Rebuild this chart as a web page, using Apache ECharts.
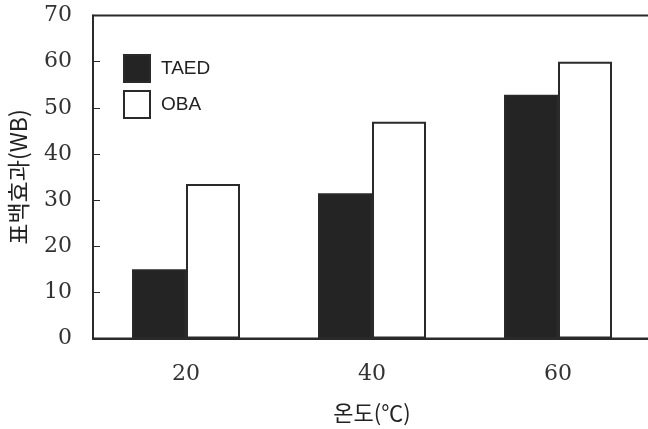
<!DOCTYPE html>
<html>
<head>
<meta charset="utf-8">
<script src="https://cdn.jsdelivr.net/npm/echarts@6/dist/echarts.min.js"></script>
<style>html,body{margin:0;padding:0;background:#fff;}#c{width:648px;height:429px;}</style>
</head>
<body>
<div id="c"></div>
<script>
var categories = ['20', '40', '60'];
var taed = [15, 31.5, 52.8];
var oba = [33.5, 47, 60];
var seriesNames = ['TAED', 'OBA'];
var xName = '온도(℃)';
var yName = '표백효과(WB)';

var chart = echarts.init(document.getElementById('c'), null, {renderer: 'canvas'});
var ink = '#2a2a2a';
chart.setOption({
  animation: false,
  backgroundColor: '#fff',
  grid: {left: 93, width: 558, top: 15.5, bottom: 90.5, show: true, borderColor: ink, borderWidth: 2,
         backgroundColor: 'transparent', outerBoundsMode: 'none', containLabel: false},
  legend: {
    orient: 'vertical', left: 118, top: 49, itemWidth: 26, itemHeight: 27, itemGap: 7,
    icon: 'rect',
    textStyle: {fontFamily: 'Liberation Sans', fontSize: 19, color: '#222', padding: [0, 0, 0, 6]},
    data: seriesNames
  },
  xAxis: {
    type: 'category', data: categories,
    name: xName, nameLocation: 'middle', nameGap: 63,
    nameTextStyle: {fontFamily: 'Noto Sans CJK KR', fontSize: 22, color: '#222'},
    axisLine: {lineStyle: {color: ink, width: 2}},
    axisTick: {inside: true, length: 7, lineStyle: {color: ink, width: 1}},
    axisLabel: {fontFamily: 'DejaVu Serif', fontSize: 22, color: '#333', margin: 25}
  },
  yAxis: {
    type: 'value', min: 0, max: 70, interval: 10,
    name: yName, nameLocation: 'middle', nameGap: 63, nameRotate: 90,
    nameTextStyle: {fontFamily: 'Noto Sans CJK KR', fontSize: 23, color: '#222'},
    axisLine: {show: true, lineStyle: {color: ink, width: 2}},
    axisTick: {show: true, inside: true, length: 7, lineStyle: {color: ink, width: 1}},
    splitLine: {show: false},
    axisLabel: {fontFamily: 'DejaVu Serif', fontSize: 22, color: '#333', margin: 21}
  },
  series: [
    {name: seriesNames[0], type: 'bar', data: taed, barWidth: 54, barGap: '0%',
     itemStyle: {color: '#242424', borderColor: ink, borderWidth: 1.5}},
    {name: seriesNames[1], type: 'bar', data: oba, barWidth: 54, barGap: '0%',
     itemStyle: {color: '#ffffff', borderColor: ink, borderWidth: 2}}
  ]
});
</script>
</body>
</html>
